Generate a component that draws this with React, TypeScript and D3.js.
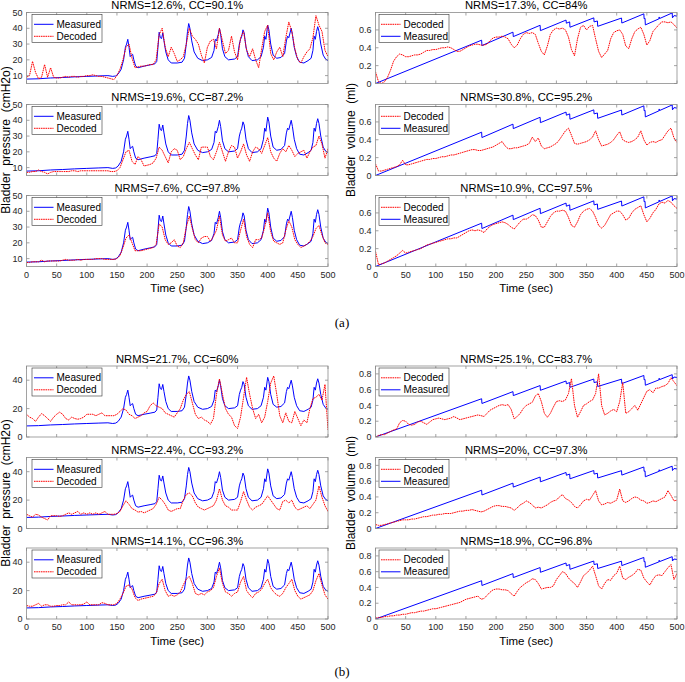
import React from 'react';
import * as d3 from 'd3';

// decoded series are sampled every 5 s, 0..500
const timeGrid = d3.range(0, 501, 5);

// measured bladder pressure (cmH2o), [time, value]
const measuredPressure: [number, number][] = [
  [0, 7.8], [20, 8], [40, 8.5], [60, 8.8], [80, 9.2], [100, 9.5], [120, 9.8], [135, 10], [143, 9.5], [148, 9.8],
  [152, 11], [157, 14], [161, 20], [164, 28], [166, 30], [168, 33], [170, 28], [172, 22], [174, 23], [176, 23.5],
  [178, 20], [181, 16], [185, 15], [195, 16], [205, 16.8], [213, 17.5], [216, 19], [218, 28], [220, 37.5], [222, 34],
  [224, 33.5], [226, 37], [228, 32], [231, 25], [235, 20], [240, 18], [250, 18], [258, 18.5], [262, 21], [265, 30],
  [267, 38], [269, 43], [271, 40], [274, 32], [278, 25], [284, 21], [292, 19.5], [300, 20], [307, 21.5], [311, 26],
  [313, 33], [315, 32], [318, 36], [320, 40], [322, 36], [325, 27], [329, 22], [335, 20], [345, 20.5], [350, 22],
  [353, 30], [355, 33], [357, 35], [359, 39], [361, 37], [364, 28], [368, 22], [374, 19.5], [383, 20], [389, 22],
  [393, 28], [395, 35], [397, 33], [400, 42], [402, 39], [405, 30], [409, 23], [415, 21], [422, 21.5], [428, 24],
  [431, 32], [433, 35], [435, 34], [439, 40], [441, 36], [444, 28], [448, 22], [453, 18.5], [460, 18], [467, 19.5],
  [472, 21], [475, 26], [477, 35], [479, 33], [481, 38], [483, 41], [485, 38], [488, 30], [492, 23], [496, 20.5],
  [500, 19.5],
];

// measured bladder volume (ml), [time, value]
const measuredVolume: [number, number][] = [
  [0, 0], [176, 0.485], [176.5, 0.425], [228, 0.575], [228.5, 0.525], [273, 0.652], [273.5, 0.592],
  [316, 0.71], [316.5, 0.675], [322, 0.69], [322.5, 0.63], [362, 0.735], [362.5, 0.69], [368, 0.7],
  [368.5, 0.64], [408, 0.733], [408.5, 0.677], [445, 0.78], [445.5, 0.725], [447, 0.73], [447.5, 0.656],
  [470, 0.724], [470.5, 0.745], [471, 0.727], [492, 0.79], [492.5, 0.735], [495, 0.76], [500, 0.755],
];

const decodedA1 = [
  9, 10, 19, 12, 8, 9, 17, 9, 15, 9,
  8.5, 8.5, 9, 9.5, 9, 9.5, 9.5, 9, 9.5, 9.5,
  10, 10, 10.5, 10, 9.5, 9.5, 9, 8.5, 8, 7.5,
  10, 14, 20, 28, 30, 21, 15, 15.5, 16, 16,
  16.5, 17, 17, 20, 36, 40, 28, 22, 28, 24,
  19, 20, 22, 30, 40, 35, 33, 30, 23, 18,
  28, 32, 33, 27, 40, 32, 24, 26, 35, 25,
  20, 34, 38, 26, 22, 27, 20, 15, 27, 38,
  42, 24, 20, 25, 28, 22, 34, 44, 38, 27,
  20, 18, 22, 25, 27, 34, 48, 42, 38, 26,
  22,
];

const decodedA2 = [
  7, 7, 7.5, 7.5, 8.5, 7.5, 7, 6, 7, 7.5,
  7.5, 7.5, 7.5, 7.5, 7.5, 8, 8, 7.5, 8, 8,
  8, 8, 8, 8, 8, 8, 8, 8, 7.5, 7.5,
  8, 10, 15, 20, 21, 14, 12, 17, 15, 11,
  11.5, 12, 13, 16, 23, 21, 17, 13, 20, 22,
  21, 15, 17, 22, 26, 22, 18, 15, 23, 23,
  23, 17, 15, 20, 26, 20, 14, 20, 24, 23,
  16, 20, 25, 18, 14, 20, 23, 22, 19, 24,
  29, 20, 16, 14, 19, 22, 20, 24, 21, 17,
  19, 20, 21, 16, 20, 23, 24, 30, 25, 16,
  22,
];

const decodedA3 = [
  7.5, 7.5, 8, 8, 8, 9, 8, 8.5, 8.5, 8.5,
  8.5, 8.5, 9, 9.5, 9, 9, 9, 9.5, 9, 9.5,
  9.5, 9.5, 9.5, 10, 10, 10, 9.5, 9.5, 9.5, 9.5,
  10, 12, 17, 23, 25, 20, 15, 15, 15, 15.5,
  16, 16.5, 17, 19, 32, 30, 22, 19, 20, 22,
  18, 17, 20, 30, 37, 29, 22, 20, 23, 24,
  24, 21, 24, 28, 37, 25, 21, 22, 23, 20,
  20, 28, 35, 24, 19, 17, 22, 22, 23, 30,
  39, 27, 21, 20, 19, 20, 28, 34, 30, 22,
  19, 17, 18, 19, 21, 24, 29, 31, 25, 20,
  19,
];

const decodedA4 = [
  0.13, 0.02, 0.0, 0.02, 0.07, 0.15, 0.25, 0.3, 0.33, 0.32,
  0.3, 0.3, 0.31, 0.32, 0.32, 0.33, 0.35, 0.37, 0.37, 0.38,
  0.38, 0.39, 0.4, 0.4, 0.41, 0.4, 0.38, 0.36, 0.36, 0.38,
  0.4, 0.42, 0.43, 0.44, 0.44, 0.43, 0.43, 0.44, 0.48, 0.51,
  0.52, 0.52, 0.53, 0.52, 0.5, 0.44, 0.4, 0.43, 0.5, 0.55,
  0.57, 0.56, 0.57, 0.55, 0.45, 0.36, 0.32, 0.42, 0.55, 0.6,
  0.62, 0.61, 0.62, 0.6, 0.52, 0.38, 0.31, 0.5, 0.63, 0.65,
  0.6, 0.64, 0.65, 0.5, 0.36, 0.29, 0.33, 0.37, 0.5, 0.57,
  0.59, 0.6, 0.55, 0.42, 0.39, 0.5, 0.58, 0.61, 0.63, 0.55,
  0.43, 0.48, 0.58, 0.62, 0.66, 0.69, 0.69, 0.68, 0.69, 0.66,
  0.62,
];

const decodedA5 = [
  0.13, 0.05, 0.05, 0.06, 0.07, 0.08, 0.09, 0.1, 0.12, 0.17,
  0.12, 0.12, 0.13, 0.14, 0.15, 0.16, 0.17, 0.18, 0.18, 0.19,
  0.19, 0.2, 0.21, 0.21, 0.22, 0.23, 0.23, 0.24, 0.25, 0.26,
  0.27, 0.28, 0.29, 0.29, 0.28, 0.28, 0.29, 0.3, 0.31, 0.32,
  0.34, 0.36, 0.38, 0.33, 0.3, 0.3, 0.31, 0.31, 0.32, 0.33,
  0.34, 0.36, 0.43, 0.38, 0.42, 0.33, 0.3, 0.31, 0.32, 0.34,
  0.36, 0.4, 0.45, 0.5, 0.53, 0.45, 0.36, 0.35, 0.36, 0.37,
  0.38, 0.4, 0.43, 0.5, 0.4, 0.33, 0.34, 0.35, 0.37, 0.4,
  0.45, 0.49, 0.4, 0.38, 0.37, 0.38, 0.4, 0.43, 0.5, 0.4,
  0.34, 0.37, 0.38, 0.37, 0.39, 0.4, 0.45, 0.5, 0.53, 0.42,
  0.37,
];

const decodedA6 = [
  0.17, 0.02, 0.03, 0.04, 0.06, 0.08, 0.1, 0.12, 0.15, 0.18,
  0.15, 0.16, 0.17, 0.18, 0.19, 0.2, 0.22, 0.24, 0.25, 0.26,
  0.27, 0.28, 0.29, 0.3, 0.31, 0.31, 0.32, 0.32, 0.34, 0.36,
  0.38, 0.4, 0.41, 0.4, 0.41, 0.4, 0.38, 0.42, 0.45, 0.47,
  0.48, 0.49, 0.5, 0.49, 0.47, 0.44, 0.42, 0.46, 0.5, 0.53,
  0.53, 0.55, 0.58, 0.57, 0.52, 0.44, 0.44, 0.5, 0.56, 0.6,
  0.62, 0.62, 0.63, 0.62, 0.55, 0.46, 0.44, 0.5, 0.58, 0.62,
  0.64, 0.65, 0.62, 0.55, 0.46, 0.43, 0.46, 0.52, 0.58, 0.6,
  0.62, 0.62, 0.58, 0.52, 0.54, 0.6, 0.64, 0.66, 0.68, 0.58,
  0.5, 0.54, 0.6, 0.64, 0.7, 0.72, 0.71, 0.74, 0.72, 0.68,
  0.65,
];

const decodedB1 = [
  16, 14, 13, 11, 14, 16.5, 15, 13, 11, 14,
  16, 17.5, 16, 13, 12, 14, 13, 12.5, 13, 14,
  16, 16, 16, 15, 16, 17, 15, 15, 15, 15,
  16, 18, 20, 19, 16, 15, 13, 14, 15, 17,
  18, 22, 24, 22, 21, 20, 17, 16, 15, 14,
  17, 20, 26, 30, 32, 24, 16, 13, 14, 12,
  11, 9, 13, 30, 41, 30, 20, 16, 14, 8,
  6, 14, 28, 42, 30, 20, 13, 16, 10, 14,
  25, 38, 43, 30, 15, 10, 17, 11, 10, 18,
  13, 8, 12, 10, 20, 27, 28, 30, 26, 37,
  5,
];

const decodedB2 = [
  10, 9, 8, 10, 9.5, 8, 7, 6, 9, 9,
  9, 8.5, 9, 10, 11, 10, 11, 12, 10, 11,
  10, 11, 10, 11, 10, 11, 12, 10, 10, 10,
  10.5, 12, 16, 19.5, 17, 14, 13, 11.5, 12, 11,
  12, 13, 14, 17, 22, 20, 17, 13, 12, 13,
  14, 14, 20, 24, 25, 23, 18, 15, 14, 13,
  14, 15, 16, 20, 28, 20, 16, 15, 13, 13,
  13, 19, 26, 20, 15, 13, 15, 16, 17, 20,
  23, 20, 17, 14, 13, 19, 20, 18, 20, 15,
  13, 14, 15, 16, 14, 17, 20, 30, 22, 16,
  12,
];

const decodedB3 = [
  9.5, 9, 9, 10, 11, 9, 10, 10, 9, 9,
  9.5, 9.5, 10, 10, 12, 10, 10, 10, 10, 10.5,
  12, 10, 10, 10, 10, 11.5, 11, 10, 10, 10,
  11, 14, 18, 23, 24, 21, 15, 13, 14, 14.5,
  15, 15.5, 16, 18, 25, 28, 20, 16, 17, 16,
  17, 19, 24, 28, 30, 25, 18, 17, 18, 17,
  19, 20, 22, 30, 36, 25, 19, 18, 16, 18,
  19, 26, 30, 20, 17, 15, 18, 19, 21, 25,
  28, 22, 19, 17, 16, 18, 22, 25, 28, 20,
  16, 14, 15, 16, 17, 20, 27, 32, 24, 17,
  14,
];

const decodedB4 = [
  0.0, 0.02, 0.03, 0.03, 0.05, 0.07, 0.09, 0.1, 0.18, 0.21,
  0.2, 0.16, 0.15, 0.16, 0.19, 0.2, 0.18, 0.16, 0.19, 0.22,
  0.23, 0.24, 0.23, 0.22, 0.23, 0.24, 0.26, 0.24, 0.22, 0.23,
  0.24, 0.25, 0.26, 0.27, 0.28, 0.27, 0.26, 0.3, 0.34, 0.36,
  0.38, 0.4, 0.41, 0.4, 0.41, 0.35, 0.23, 0.26, 0.3, 0.36,
  0.4, 0.42, 0.44, 0.52, 0.55, 0.45, 0.3, 0.25, 0.3, 0.38,
  0.45, 0.46, 0.45, 0.47, 0.55, 0.74, 0.4, 0.25, 0.32, 0.4,
  0.42, 0.45, 0.47, 0.55, 0.8, 0.4, 0.28, 0.3, 0.33, 0.35,
  0.32, 0.45, 0.69, 0.3, 0.32, 0.36, 0.4, 0.34, 0.42, 0.5,
  0.58, 0.6, 0.56, 0.62, 0.62, 0.64, 0.65, 0.68, 0.75, 0.7,
  0.65,
];

const decodedB5 = [
  0.05, 0.04, 0.04, 0.05, 0.06, 0.07, 0.08, 0.09, 0.1, 0.11,
  0.11, 0.11, 0.12, 0.12, 0.13, 0.14, 0.15, 0.15, 0.16, 0.17,
  0.17, 0.18, 0.18, 0.19, 0.19, 0.19, 0.2, 0.21, 0.22, 0.22,
  0.23, 0.23, 0.24, 0.23, 0.22, 0.21, 0.22, 0.24, 0.26, 0.28,
  0.29, 0.29, 0.28, 0.28, 0.27, 0.26, 0.23, 0.26, 0.3, 0.32,
  0.35, 0.33, 0.3, 0.26, 0.27, 0.26, 0.28, 0.3, 0.33, 0.35,
  0.36, 0.4, 0.43, 0.38, 0.36, 0.33, 0.28, 0.26, 0.3, 0.35,
  0.37, 0.36, 0.42, 0.48, 0.35, 0.3, 0.31, 0.33, 0.32, 0.34,
  0.36, 0.5, 0.35, 0.33, 0.35, 0.38, 0.4, 0.39, 0.36, 0.35,
  0.32, 0.33, 0.35, 0.34, 0.36, 0.38, 0.4, 0.48, 0.42, 0.35,
  0.36,
];

const decodedB6 = [
  0.01, 0.02, 0.02, 0.03, 0.03, 0.04, 0.04, 0.05, 0.05, 0.06,
  0.06, 0.07, 0.08, 0.08, 0.09, 0.1, 0.1, 0.11, 0.12, 0.13,
  0.13, 0.14, 0.15, 0.16, 0.17, 0.18, 0.19, 0.2, 0.21, 0.23,
  0.25, 0.26, 0.27, 0.28, 0.29, 0.25, 0.26, 0.3, 0.34, 0.37,
  0.38, 0.38, 0.37, 0.37, 0.36, 0.32, 0.29, 0.35, 0.4, 0.43,
  0.46, 0.48, 0.51, 0.5, 0.45, 0.38, 0.39, 0.4, 0.4, 0.42,
  0.5, 0.55, 0.6, 0.58, 0.52, 0.48, 0.45, 0.4, 0.47, 0.55,
  0.58, 0.62, 0.67, 0.55, 0.42, 0.38, 0.45, 0.5, 0.49, 0.55,
  0.58, 0.67, 0.52, 0.5, 0.53, 0.55, 0.58, 0.63, 0.62, 0.52,
  0.47, 0.43, 0.5, 0.55, 0.56, 0.55, 0.6, 0.65, 0.69, 0.5,
  0.58,
];

const titlesA = [
  'NRMS=12.6%, CC=90.1%', 'NRMS=19.6%, CC=87.2%', 'NRMS=7.6%, CC=97.8%',
  'NRMS=17.3%, CC=84%', 'NRMS=30.8%, CC=95.2%', 'NRMS=10.9%, CC=97.5%',
];
const titlesB = [
  'NRMS=21.7%, CC=60%', 'NRMS=22.4%, CC=93.2%', 'NRMS=14.1%, CC=96.3%',
  'NRMS=25.1%, CC=83.7%', 'NRMS=20%, CC=97.3%', 'NRMS=18.9%, CC=96.8%',
];

const xTicks = d3.range(0, 501, 50);
const pressureTicksA = [10, 20, 30, 40, 50];
const pressureTicksB = [0, 20, 40];
const volumeTicksA = [0, 0.2, 0.4, 0.6];
const volumeTicksB = [0, 0.2, 0.4, 0.6, 0.8];

const FONT = '"Liberation Sans", Arial, Helvetica, sans-serif';
const BLUE = '#0000ff';
const RED = '#ff0000';
const DOTS = '1.6 0.7';
const AXIS = '#8c8c8c';
const TEXT = '#262626';

type SubplotProps = {
  id: string;
  left: number;
  top: number;
  width: number;
  height: number;
  yDomain: [number, number];
  yTicks: number[];
  measured: [number, number][];
  decoded: number[];
  title: string;
  decodedFirst: boolean;
  showXLabels: boolean;
};

function Subplot(p: SubplotProps) {
  const x = d3.scaleLinear().domain([0, 500]).range([p.left, p.left + p.width]);
  const y = d3.scaleLinear().domain(p.yDomain).range([p.top + p.height, p.top]);
  const line = d3.line<[number, number]>().x(d => x(d[0])).y(d => y(d[1]));
  const decodedPts: [number, number][] = timeGrid.map((t, i) => [t, p.decoded[i]]);
  const bottom = p.top + p.height;
  const right = p.left + p.width;
  const tl = 3;

  const lx = p.left + (p.decodedFirst ? 3.5 : 5.5);
  const ly = p.top + 2;
  const items = p.decodedFirst
    ? [{ label: 'Decoded', color: RED, dash: DOTS }, { label: 'Measured', color: BLUE, dash: undefined }]
    : [{ label: 'Measured', color: BLUE, dash: undefined }, { label: 'Decoded', color: RED, dash: DOTS }];

  return (
    <g>
      <defs>
        <clipPath id={p.id}>
          <rect x={p.left} y={p.top} width={p.width} height={p.height} />
        </clipPath>
      </defs>
      <rect x={p.left} y={p.top} width={p.width} height={p.height} fill="#fff" />
      <g clipPath={`url(#${p.id})`} fill="none">
        <path d={line(p.measured) || ''} stroke={BLUE} strokeWidth={1} />
        <path d={line(decodedPts) || ''} stroke={RED} strokeWidth={1} strokeDasharray={DOTS} />
      </g>
      <g stroke={AXIS} strokeWidth={0.8}>
        {xTicks.map(t => (
          <g key={'xt' + t}>
            <line x1={x(t)} x2={x(t)} y1={bottom} y2={bottom - tl} />
            <line x1={x(t)} x2={x(t)} y1={p.top} y2={p.top + tl} />
          </g>
        ))}
        {p.yTicks.map(t => (
          <g key={'yt' + t}>
            <line x1={p.left} x2={p.left + tl} y1={y(t)} y2={y(t)} />
            <line x1={right} x2={right - tl} y1={y(t)} y2={y(t)} />
          </g>
        ))}
        <rect x={p.left} y={p.top} width={p.width} height={p.height} fill="none" />
      </g>
      <g fontFamily={FONT} fontSize={9} fill={TEXT}>
        {p.yTicks.map(t => (
          <text key={'yl' + t} x={p.left - 4} y={y(t) + 3.2} textAnchor="end">{String(t)}</text>
        ))}
        {p.showXLabels && xTicks.map(t => (
          <text key={'xl' + t} x={x(t)} y={bottom + 11} textAnchor="middle">{String(t)}</text>
        ))}
      </g>
      <text x={(p.left + right) / 2} y={p.top - 3.5} textAnchor="middle" fontFamily={FONT} fontSize={11.2} fill="#000">
        {p.title}
      </text>
      <g>
        <rect x={lx} y={ly} width={70} height={28} fill="#fff" stroke="#333" strokeWidth={0.6} />
        {items.map((it, i) => (
          <g key={it.label}>
            <line x1={lx + 2} x2={lx + 21.5} y1={ly + 9.8 + i * 12} y2={ly + 9.8 + i * 12}
              stroke={it.color} strokeWidth={1} strokeDasharray={it.dash} />
            <text x={lx + 24.5} y={ly + 13.3 + i * 12} fontFamily={FONT} fontSize={10} fill="#000">{it.label}</text>
          </g>
        ))}
      </g>
    </g>
  );
}

const leftX = 26.5;
const rightX = 375.5;
const plotW = 301.5;
const plotH = 71;
const rowsA = [12.5, 104.5, 195.5];
const rowsB = [366, 457.5, 548];

export default function App() {
  const decA = [decodedA1, decodedA2, decodedA3, decodedA4, decodedA5, decodedA6];
  const decB = [decodedB1, decodedB2, decodedB3, decodedB4, decodedB5, decodedB6];

  const makePanel = (rows: number[], dec: number[][], titles: string[], tag: string, pDom: [number, number], pTicks: number[], vDom: [number, number], vTicks: number[]) => (
    <g key={tag}>
      {rows.map((top, r) => (
        <Subplot key={tag + 'p' + r} id={tag + 'p' + r} left={leftX} top={top} width={plotW} height={plotH}
          yDomain={pDom} yTicks={pTicks} measured={measuredPressure} decoded={dec[r]} title={titles[r]}
          decodedFirst={false} showXLabels={r === 2} />
      ))}
      {rows.map((top, r) => (
        <Subplot key={tag + 'v' + r} id={tag + 'v' + r} left={rightX} top={top} width={plotW} height={plotH}
          yDomain={vDom} yTicks={vTicks} measured={measuredVolume} decoded={dec[r + 3]} title={titles[r + 3]}
          decodedFirst={true} showXLabels={r === 2} />
      ))}
      <g fontFamily={FONT} fill="#000">
        <text x={leftX + plotW / 2} y={rows[2] + plotH + 25.5} textAnchor="middle" fontSize={11.5}>Time (sec)</text>
        <text x={rightX + plotW / 2} y={rows[2] + plotH + 25.5} textAnchor="middle" fontSize={11.5}>Time (sec)</text>
        <text transform={`translate(10,${rows[1] + plotH / 2}) rotate(-90)`} textAnchor="middle" fontSize={12}
          xmlSpace="preserve" style={{ whiteSpace: 'pre' }}>{'Bladder  pressure  (cmH2o)'}</text>
        <text transform={`translate(355,${rows[1] + plotH / 2}) rotate(-90)`} textAnchor="middle" fontSize={12}
          xmlSpace="preserve" style={{ whiteSpace: 'pre' }}>{'Bladder  volume  (ml)'}</text>
      </g>
    </g>
  );

  return (
    <svg width={685} height={682} style={{ position: 'absolute', left: 0, top: 0, background: '#fff' }}>
      <rect width={685} height={682} fill="#fff" />
      {makePanel(rowsA, decA, titlesA, 'a', [5, 50], pressureTicksA, [0, 0.795], volumeTicksA)}
      {makePanel(rowsB, decB, titlesB, 'b', [0, 50], pressureTicksB, [0, 0.9], volumeTicksB)}
      <g fontFamily='"Liberation Serif", "Times New Roman", serif' fontSize={13} fill="#000" textAnchor="middle">
        <text x={342} y={326.5}>(a)</text>
        <text x={342} y={676}>(b)</text>
      </g>
    </svg>
  );
}
